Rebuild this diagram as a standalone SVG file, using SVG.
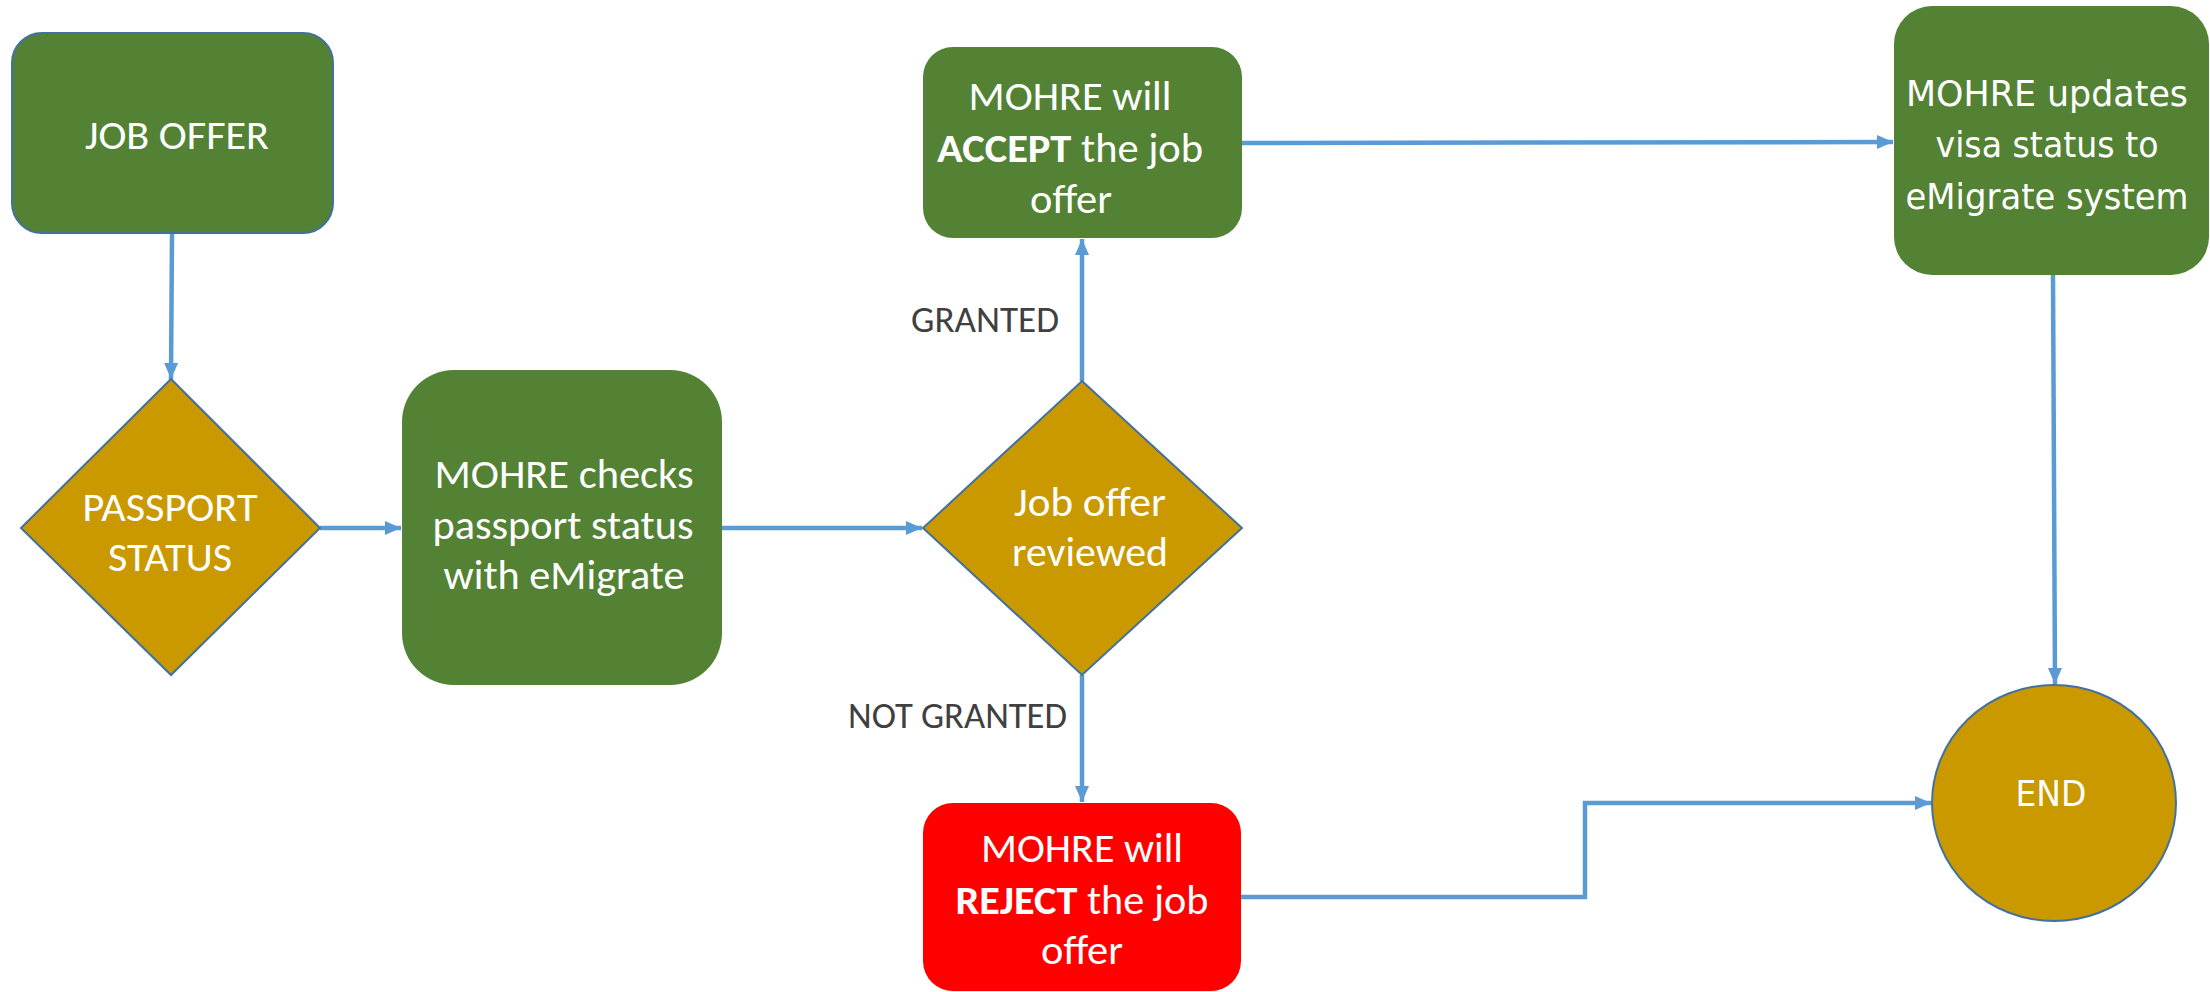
<svg xmlns="http://www.w3.org/2000/svg" width="2210" height="992" viewBox="0 0 2210 992">
<defs>
<marker id="arr" markerUnits="userSpaceOnUse" markerWidth="18" markerHeight="16" refX="16" refY="8" orient="auto">
<path d="M0,1 L16,8 L0,15 Z" fill="#5B9BD5"/>
</marker>
<style>
.green{fill:#548235}
.gold{fill:#CA9900;stroke:#41719C;stroke-width:2}
.border{stroke:#41719C;stroke-width:2}
.red{fill:#FF0000}
.t{font-family:Carlito,Lato,"Open Sans",sans-serif;font-size:41px;fill:#FFFFFF;text-anchor:middle}
.v{font-family:"DejaVu Sans",Verdana,sans-serif;font-size:36px;fill:#FFFFFF;text-anchor:middle}
.lbl{font-family:Carlito,Lato,"Open Sans",sans-serif;font-size:36px;fill:#404040}
.b{font-weight:bold}
.c{fill:none;stroke:#5B9BD5;stroke-width:4.5}
</style>
</defs>
<rect width="2210" height="992" fill="#FFFFFF"/>
<g id="connectors">
<path class="c" d="M172,233 L171,379" marker-end="url(#arr)"/>
<path class="c" d="M320,528 L401,528" marker-end="url(#arr)"/>
<path class="c" d="M722,528 L922,528" marker-end="url(#arr)"/>
<path class="c" d="M1082,381 L1082,239" marker-end="url(#arr)"/>
<path class="c" d="M1082,675 L1082,802" marker-end="url(#arr)"/>
<path class="c" d="M1242,143 L1893,142" marker-end="url(#arr)"/>
<path class="c" d="M2053,275 L2055,684" marker-end="url(#arr)"/>
<path class="c" d="M1241,897 H1585 V803 H1931" marker-end="url(#arr)"/>
<text class="lbl" x="911" y="332" textLength="148" lengthAdjust="spacingAndGlyphs">GRANTED</text>
<text class="lbl" x="848" y="728" textLength="219" lengthAdjust="spacingAndGlyphs">NOT GRANTED</text>
</g>
<g id="job-offer">
<rect class="green border" x="12" y="33" width="321" height="200" rx="30"/>
<text class="t" x="177" y="149" textLength="184" lengthAdjust="spacingAndGlyphs">JOB OFFER</text>
</g>
<g id="passport-status">
<polygon class="gold" points="171,379 320,528 171,675 21,528"/>
<text class="t" x="170" y="521" textLength="175" lengthAdjust="spacingAndGlyphs">PASSPORT</text>
<text class="t" x="170" y="571" textLength="124" lengthAdjust="spacingAndGlyphs">STATUS</text>
</g>
<g id="mohre-checks">
<rect class="green" x="402" y="370" width="320" height="315" rx="52"/>
<text class="t" x="564" y="488" textLength="259" lengthAdjust="spacingAndGlyphs">MOHRE checks</text>
<text class="t" x="563" y="539" textLength="261" lengthAdjust="spacingAndGlyphs">passport status</text>
<text class="t" x="564" y="589" textLength="241" lengthAdjust="spacingAndGlyphs">with eMigrate</text>
</g>
<g id="job-offer-reviewed">
<polygon class="gold" points="1082,381 1242,528 1082,675 923,528"/>
<text class="t" x="1090" y="516" textLength="152" lengthAdjust="spacingAndGlyphs">Job offer</text>
<text class="t" x="1090" y="566" textLength="156" lengthAdjust="spacingAndGlyphs">reviewed</text>
</g>
<g id="mohre-accept">
<rect class="green" x="923" y="47" width="319" height="191" rx="30"/>
<text class="t" x="1070" y="110" textLength="203" lengthAdjust="spacingAndGlyphs">MOHRE will</text>
<text class="t" x="1070" y="162" textLength="266" lengthAdjust="spacingAndGlyphs"><tspan class="b">ACCEPT</tspan> the job</text>
<text class="t" x="1071" y="213" textLength="82" lengthAdjust="spacingAndGlyphs">offer</text>
</g>
<g id="mohre-reject">
<rect class="red" x="923" y="803" width="318" height="188" rx="30"/>
<text class="t" x="1082" y="862" textLength="202" lengthAdjust="spacingAndGlyphs">MOHRE will</text>
<text class="t" x="1082" y="914" textLength="253" lengthAdjust="spacingAndGlyphs"><tspan class="b">REJECT</tspan> the job</text>
<text class="t" x="1082" y="964" textLength="82" lengthAdjust="spacingAndGlyphs">offer</text>
</g>
<g id="mohre-updates">
<rect class="green" x="1894" y="6" width="315" height="269" rx="38"/>
<text class="v" x="2047" y="106" textLength="282" lengthAdjust="spacingAndGlyphs">MOHRE updates</text>
<text class="v" x="2047" y="157" textLength="223" lengthAdjust="spacingAndGlyphs">visa status to</text>
<text class="v" x="2047" y="209" textLength="283" lengthAdjust="spacingAndGlyphs">eMigrate system</text>
</g>
<g id="end">
<ellipse class="gold" cx="2054" cy="803" rx="122" ry="118"/>
<text class="v" x="2051" y="806" textLength="71" lengthAdjust="spacingAndGlyphs">END</text>
</g>
</svg>
